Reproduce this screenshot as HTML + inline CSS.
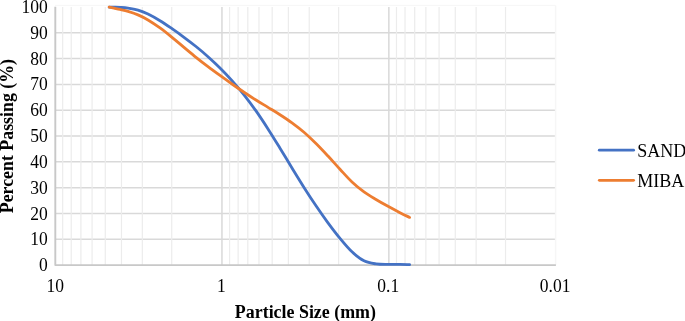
<!DOCTYPE html>
<html><head><meta charset="utf-8"><style>
html,body{margin:0;padding:0;background:#fff;}
body{width:685px;height:321px;overflow:hidden;}
svg{display:block;will-change:transform;}
.t{font-family:"Liberation Serif",serif;font-size:17.5px;fill:#000;}
.l{font-family:"Liberation Serif",serif;font-size:18px;fill:#000;}
.b{font-family:"Liberation Serif",serif;font-size:17.9px;font-weight:bold;fill:#000;}
</style></head><body>
<svg width="685" height="321" viewBox="0 0 685 321">
<line x1="55.05" y1="239.29" x2="555.00" y2="239.29" stroke="#d9d9d9" stroke-width="1.5"/>
<line x1="55.05" y1="213.48" x2="555.00" y2="213.48" stroke="#d9d9d9" stroke-width="1.5"/>
<line x1="55.05" y1="187.67" x2="555.00" y2="187.67" stroke="#d9d9d9" stroke-width="1.5"/>
<line x1="55.05" y1="161.86" x2="555.00" y2="161.86" stroke="#d9d9d9" stroke-width="1.5"/>
<line x1="55.05" y1="136.05" x2="555.00" y2="136.05" stroke="#d9d9d9" stroke-width="1.5"/>
<line x1="55.05" y1="110.24" x2="555.00" y2="110.24" stroke="#d9d9d9" stroke-width="1.5"/>
<line x1="55.05" y1="84.43" x2="555.00" y2="84.43" stroke="#d9d9d9" stroke-width="1.5"/>
<line x1="55.05" y1="58.62" x2="555.00" y2="58.62" stroke="#d9d9d9" stroke-width="1.5"/>
<line x1="55.05" y1="32.81" x2="555.00" y2="32.81" stroke="#d9d9d9" stroke-width="1.5"/>
<line x1="55.05" y1="5.40" x2="555.60" y2="5.40" stroke="#f6f6f6" stroke-width="1"/>
<line x1="171.71" y1="7.00" x2="171.71" y2="265.10" stroke="#ececec" stroke-width="1.2"/>
<line x1="142.32" y1="7.00" x2="142.32" y2="265.10" stroke="#ececec" stroke-width="1.2"/>
<line x1="121.47" y1="7.00" x2="121.47" y2="265.10" stroke="#ececec" stroke-width="1.2"/>
<line x1="105.29" y1="7.00" x2="105.29" y2="265.10" stroke="#ececec" stroke-width="1.2"/>
<line x1="92.08" y1="7.00" x2="92.08" y2="265.10" stroke="#ececec" stroke-width="1.2"/>
<line x1="80.90" y1="7.00" x2="80.90" y2="265.10" stroke="#ececec" stroke-width="1.2"/>
<line x1="71.22" y1="7.00" x2="71.22" y2="265.10" stroke="#ececec" stroke-width="1.2"/>
<line x1="62.69" y1="7.00" x2="62.69" y2="265.10" stroke="#ececec" stroke-width="1.2"/>
<line x1="338.61" y1="7.00" x2="338.61" y2="265.10" stroke="#ececec" stroke-width="1.2"/>
<line x1="309.22" y1="7.00" x2="309.22" y2="265.10" stroke="#ececec" stroke-width="1.2"/>
<line x1="288.37" y1="7.00" x2="288.37" y2="265.10" stroke="#ececec" stroke-width="1.2"/>
<line x1="272.19" y1="7.00" x2="272.19" y2="265.10" stroke="#ececec" stroke-width="1.2"/>
<line x1="258.98" y1="7.00" x2="258.98" y2="265.10" stroke="#ececec" stroke-width="1.2"/>
<line x1="247.80" y1="7.00" x2="247.80" y2="265.10" stroke="#ececec" stroke-width="1.2"/>
<line x1="238.12" y1="7.00" x2="238.12" y2="265.10" stroke="#ececec" stroke-width="1.2"/>
<line x1="229.59" y1="7.00" x2="229.59" y2="265.10" stroke="#ececec" stroke-width="1.2"/>
<line x1="505.51" y1="7.00" x2="505.51" y2="265.10" stroke="#ececec" stroke-width="1.2"/>
<line x1="476.12" y1="7.00" x2="476.12" y2="265.10" stroke="#ececec" stroke-width="1.2"/>
<line x1="455.27" y1="7.00" x2="455.27" y2="265.10" stroke="#ececec" stroke-width="1.2"/>
<line x1="439.09" y1="7.00" x2="439.09" y2="265.10" stroke="#ececec" stroke-width="1.2"/>
<line x1="425.88" y1="7.00" x2="425.88" y2="265.10" stroke="#ececec" stroke-width="1.2"/>
<line x1="414.70" y1="7.00" x2="414.70" y2="265.10" stroke="#ececec" stroke-width="1.2"/>
<line x1="405.02" y1="7.00" x2="405.02" y2="265.10" stroke="#ececec" stroke-width="1.2"/>
<line x1="396.49" y1="7.00" x2="396.49" y2="265.10" stroke="#ececec" stroke-width="1.2"/>
<line x1="221.95" y1="7.00" x2="221.95" y2="265.10" stroke="#d9d9d9" stroke-width="1.5"/>
<line x1="388.85" y1="7.00" x2="388.85" y2="265.10" stroke="#d9d9d9" stroke-width="1.5"/>
<line x1="555.60" y1="5.40" x2="555.60" y2="265.10" stroke="#f6f6f6" stroke-width="1.5"/>
<path d="M55.30,6.70 L55.30,265.10 L555.90,265.10" fill="none" stroke="#c8c8c8" stroke-width="1.9" stroke-linejoin="round"/>
<path d="M109.20,7.10 C110.00,7.12 112.20,7.17 114.00,7.22 C115.80,7.28 117.67,7.29 120.00,7.44 C122.33,7.58 125.00,7.66 128.00,8.11 C131.00,8.56 134.67,9.15 138.00,10.14 C141.33,11.13 144.33,12.27 148.00,14.03 C151.67,15.79 156.00,18.25 160.00,20.70 C164.00,23.14 168.00,25.92 172.00,28.68 C176.00,31.45 180.00,34.31 184.00,37.28 C188.00,40.25 192.00,43.30 196.00,46.53 C200.00,49.76 204.00,53.10 208.00,56.67 C212.00,60.24 216.00,63.96 220.00,67.94 C224.00,71.93 228.00,76.10 232.00,80.59 C236.00,85.07 240.00,89.78 244.00,94.84 C248.00,99.89 252.00,105.25 256.00,110.93 C260.00,116.62 264.00,122.72 268.00,128.94 C272.00,135.15 276.00,141.72 280.00,148.22 C284.00,154.73 288.00,161.45 292.00,167.98 C296.00,174.51 300.00,181.10 304.00,187.41 C308.00,193.71 312.00,199.88 316.00,205.79 C320.00,211.70 324.00,217.42 328.00,222.86 C332.00,228.29 336.00,233.58 340.00,238.41 C344.00,243.24 348.00,248.11 352.00,251.84 C356.00,255.58 360.00,258.80 364.00,260.81 C368.00,262.82 372.00,263.29 376.00,263.89 C380.00,264.50 384.00,264.36 388.00,264.43 C392.00,264.51 396.40,264.30 400.00,264.33 C403.60,264.36 408.00,264.56 409.60,264.60" fill="none" stroke="#4472c4" stroke-width="2.8" stroke-linecap="round" stroke-linejoin="round"/>
<path d="M109.20,7.11 C110.00,7.28 112.20,7.77 114.00,8.16 C115.80,8.55 117.67,8.91 120.00,9.45 C122.33,9.99 125.00,10.51 128.00,11.41 C131.00,12.31 134.67,13.42 138.00,14.85 C141.33,16.27 144.33,17.76 148.00,19.94 C151.67,22.12 156.00,25.04 160.00,27.93 C164.00,30.82 168.00,34.07 172.00,37.30 C176.00,40.53 180.00,44.00 184.00,47.33 C188.00,50.66 192.00,54.08 196.00,57.29 C200.00,60.50 204.00,63.59 208.00,66.61 C212.00,69.64 216.00,72.54 220.00,75.44 C224.00,78.33 228.00,81.20 232.00,84.00 C236.00,86.80 240.00,89.58 244.00,92.25 C248.00,94.92 252.00,97.52 256.00,100.03 C260.00,102.55 264.00,104.90 268.00,107.35 C272.00,109.80 276.00,112.15 280.00,114.73 C284.00,117.30 288.00,119.89 292.00,122.81 C296.00,125.73 300.00,128.81 304.00,132.25 C308.00,135.70 312.00,139.52 316.00,143.49 C320.00,147.46 324.00,151.76 328.00,156.05 C332.00,160.34 336.00,164.94 340.00,169.25 C344.00,173.56 348.00,178.16 352.00,181.92 C356.00,185.68 360.00,188.90 364.00,191.83 C368.00,194.75 372.00,197.04 376.00,199.46 C380.00,201.88 384.00,204.12 388.00,206.33 C392.00,208.53 396.40,210.85 400.00,212.70 C403.60,214.55 408.00,216.62 409.60,217.40" fill="none" stroke="#ed7d31" stroke-width="2.8" stroke-linecap="round" stroke-linejoin="round"/>
<text transform="translate(47.80,271.20) scale(1,1.05)" text-anchor="end" class="t">0</text>
<text transform="translate(47.80,245.38) scale(1,1.05)" text-anchor="end" class="t">10</text>
<text transform="translate(47.80,219.57) scale(1,1.05)" text-anchor="end" class="t">20</text>
<text transform="translate(47.80,193.75) scale(1,1.05)" text-anchor="end" class="t">30</text>
<text transform="translate(47.80,167.94) scale(1,1.05)" text-anchor="end" class="t">40</text>
<text transform="translate(47.80,142.12) scale(1,1.05)" text-anchor="end" class="t">50</text>
<text transform="translate(47.80,116.31) scale(1,1.05)" text-anchor="end" class="t">60</text>
<text transform="translate(47.80,90.49) scale(1,1.05)" text-anchor="end" class="t">70</text>
<text transform="translate(47.80,64.68) scale(1,1.05)" text-anchor="end" class="t">80</text>
<text transform="translate(47.80,38.86) scale(1,1.05)" text-anchor="end" class="t">90</text>
<text transform="translate(47.80,13.05) scale(1,1.05)" text-anchor="end" class="t">100</text>
<text transform="translate(55.25,291.70) scale(1,1.05)" text-anchor="middle" class="t">10</text>
<text transform="translate(221.35,291.70) scale(1,1.05)" text-anchor="middle" class="t">1</text>
<text transform="translate(388.25,291.70) scale(1,1.05)" text-anchor="middle" class="t">0.1</text>
<text transform="translate(555.15,291.70) scale(1,1.05)" text-anchor="middle" class="t">0.01</text>
<text x="305.40" y="318.00" text-anchor="middle" class="b">Particle Size (mm)</text>
<text transform="translate(12.60,136.10) rotate(-90)" x="0" y="0" text-anchor="middle" class="b" style="font-size:17.85px">Percent Passing (%)</text>
<line x1="599.3" y1="150.2" x2="633.6" y2="150.2" stroke="#4472c4" stroke-width="2.8" stroke-linecap="round"/>
<line x1="599.3" y1="180.3" x2="633.6" y2="180.3" stroke="#ed7d31" stroke-width="2.8" stroke-linecap="round"/>
<text x="637.2" y="156.80" class="l">SAND</text>
<text x="637.2" y="186.90" class="l">MIBA</text>
</svg>
</body></html>
